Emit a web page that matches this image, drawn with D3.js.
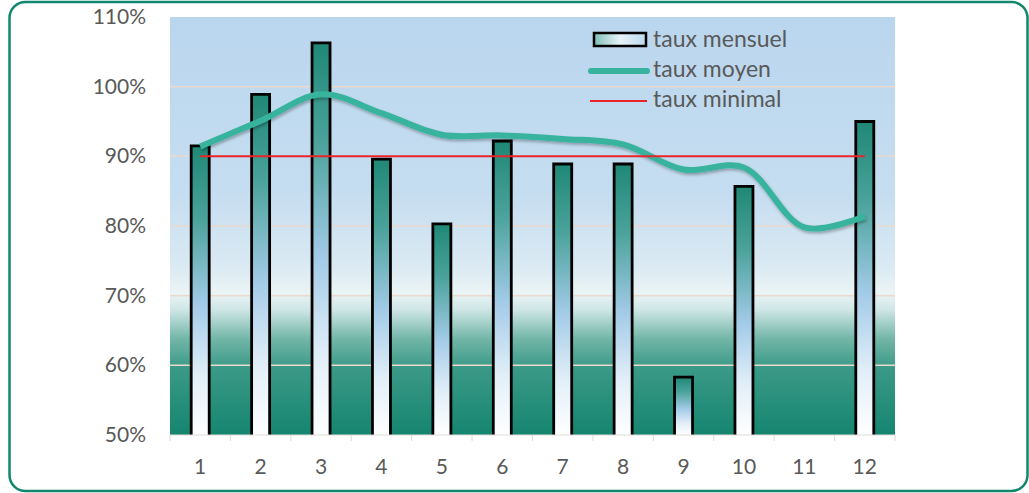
<!DOCTYPE html>
<html><head><meta charset="utf-8">
<script src="https://cdn.jsdelivr.net/npm/d3@7"></script>
<style>body{margin:0;background:#fff;}svg{display:block;font-family:Lato,"Open Sans",sans-serif;}</style>
</head><body>
<svg id="c" width="1029" height="493"></svg>
<script>
const months = ["1","2","3","4","5","6","7","8","9","10","11","12"];
const tauxMensuel = [91.5, 98.9, 106.3, 89.6, 80.3, 92.2, 88.9, 88.9, 58.3, 85.7, null, 95.0];
const tauxMoyen = [91.4, 95.1, 98.9, 96.2, 93.1, 93.0, 92.5, 91.7, 88.1, 88.4, 79.8, 81.4];
const tauxMinimal = [90, 90, 90, 90, 90, 90, 90, 90, 90, 90, 90, 90];
const yTicks = [50, 60, 70, 80, 90, 100, 110];
const legendLabels = ["taux mensuel", "taux moyen", "taux minimal"];

const svg = d3.select("#c");
const defs = svg.append("defs");
const L = 170, R = 895, T = 17, B = 435;

// frame
svg.append("rect").attr("x", 9.5).attr("y", 2).attr("width", 1018).attr("height", 489)
  .attr("rx", 16).attr("fill", "none").attr("stroke", "#12876d").attr("stroke-width", 2.5);

const x = d3.scaleBand().domain(months).range([L, R]).paddingInner(0).paddingOuter(0);
const y = d3.scaleLinear().domain([50, 110]).range([B, T]);

// background gradient
const bg = defs.append("linearGradient").attr("id", "bg").attr("x1", 0).attr("y1", 0).attr("x2", 0).attr("y2", 1);
[[0, "#bad6ee"], [0.42, "#c5ddf0"], [0.6, "#dbeaf3"], [0.66, "#ebf4f5"], [0.7, "#cfe6e6"], [0.77, "#72b6a8"], [0.84, "#3a9987"], [1, "#15856f"]]
  .forEach(([o, c]) => bg.append("stop").attr("offset", o).attr("stop-color", c));
svg.append("rect").attr("x", L).attr("y", T).attr("width", R - L).attr("height", B - T).attr("fill", "url(#bg)");

// gridlines
svg.append("g").selectAll("line").data(yTicks.filter(d => d > 50 && d < 110)).join("line")
  .attr("x1", L).attr("x2", R).attr("y1", d => y(d)).attr("y2", d => y(d))
  .attr("stroke", "#ead9cc").attr("stroke-width", 1.5);

// bar gradient
const bg2 = defs.append("linearGradient").attr("id", "bar").attr("x1", 0).attr("y1", 0).attr("x2", 0).attr("y2", 1);
[[0, "#1f8876"], [0.25, "#4aa29a"], [0.55, "#a3cbe8"], [0.8, "#e2eff8"], [1, "#ffffff"]]
  .forEach(([o, c]) => bg2.append("stop").attr("offset", o).attr("stop-color", c));
const lg = defs.append("linearGradient").attr("id", "leg").attr("x1", 0).attr("y1", 0).attr("x2", 1).attr("y2", 0);
[[0, "#7fc0b8"], [0.5, "#e8f3f8"], [1, "#bcd9ee"]]
  .forEach(([o, c]) => lg.append("stop").attr("offset", o).attr("stop-color", c));

const bw = 18;
const barData = months.map((m, i) => ({m, v: tauxMensuel[i]})).filter(d => d.v != null);
const bx = d => x(d.m) + x.bandwidth() / 2 - bw / 2;
const bars = svg.append("g");
bars.selectAll("rect").data(barData).join("rect")
  .attr("x", bx).attr("y", d => y(d.v)).attr("width", bw).attr("height", d => B - y(d.v))
  .attr("fill", "url(#bar)");
bars.selectAll("path").data(barData).join("path")
  .attr("d", d => `M${bx(d)},${B}V${y(d.v)}H${bx(d) + bw}V${B}`)
  .attr("fill", "none").attr("stroke", "#000").attr("stroke-width", 2.8);

// x axis
const xa = svg.append("g").attr("transform", `translate(0,${B})`);
xa.append("line").attr("x1", L).attr("x2", R).attr("stroke", "#e0dcd8").attr("stroke-width", 1);
xa.selectAll("line.t").data(d3.range(months.length + 1)).join("line").attr("class", "t")
  .attr("x1", i => L + i * x.step()).attr("x2", i => L + i * x.step()).attr("y1", 0).attr("y2", 6)
  .attr("stroke", "#dedad6");
xa.selectAll("text").data(months).join("text")
  .attr("x", d => x(d) + x.bandwidth() / 2).attr("y", 39)
  .attr("text-anchor", "middle").attr("fill", "#595959").attr("font-size", 21).text(d => d);

// y axis labels
svg.append("g").selectAll("text").data(yTicks).join("text")
  .attr("x", 146).attr("y", d => y(d) + 7).attr("text-anchor", "end")
  .attr("fill", "#595959").attr("font-size", 21).text(d => d + "%");

// shadow filter
const f = defs.append("filter").attr("id", "sh").attr("x", "-5%").attr("y", "-20%").attr("width", "110%").attr("height", "140%");
f.append("feDropShadow").attr("dx", 1).attr("dy", 2).attr("stdDeviation", 1.5).attr("flood-color", "#000").attr("flood-opacity", 0.3);

const cx = d => x(d) + x.bandwidth() / 2;
// average line
svg.append("path").datum(months.map((m, i) => [cx(m), y(tauxMoyen[i])]))
  .attr("d", d3.line().curve(d3.curveCatmullRom.alpha(0.5)))
  .attr("fill", "none").attr("stroke", "#38b39e").attr("stroke-width", 6).attr("filter", "url(#sh)");
// minimum line
svg.append("path").datum(months.map((m, i) => [cx(m), y(tauxMinimal[i])]))
  .attr("d", d3.line())
  .attr("fill", "none").attr("stroke", "#e8262a").attr("stroke-width", 2);

// legend
const lgd = svg.append("g");
lgd.append("rect").attr("x", 594).attr("y", 33).attr("width", 52).attr("height", 13)
  .attr("fill", "url(#leg)").attr("stroke", "#000").attr("stroke-width", 2.5);
lgd.append("line").attr("x1", 591).attr("x2", 647).attr("y1", 71).attr("y2", 71)
  .attr("stroke", "#38b39e").attr("stroke-width", 6).attr("stroke-linecap", "round");
lgd.append("line").attr("x1", 590).attr("x2", 647).attr("y1", 101).attr("y2", 101)
  .attr("stroke", "#e8262a").attr("stroke-width", 2);
lgd.selectAll("text").data(legendLabels).join("text")
  .attr("x", 653).attr("y", (d, i) => 47 + i * 30)
  .attr("fill", "#595959").attr("font-size", 23).text(d => d);
</script>
</body></html>
